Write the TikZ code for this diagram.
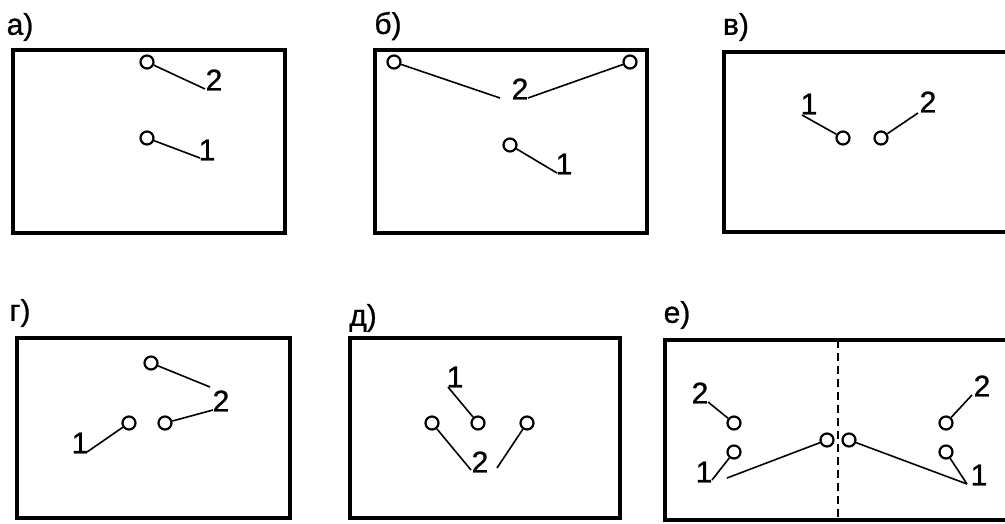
\documentclass[tikz,border=0pt]{standalone}
\usepackage{fontspec}
\setmainfont{Liberation Sans}[BoldFont={Liberation Sans},BoldFeatures={FakeBold=0.9}]
\begin{document}
\begin{tikzpicture}[x=1pt,y=-1pt,
  frame/.style={line width=4.2pt},
  hole/.style={circle,draw,line width=2.2pt,minimum size=13pt,inner sep=0pt},
  lead/.style={line width=1.6pt},
  num/.style={font=\fontsize{30}{30}\selectfont\bfseries,inner sep=0pt},
  tag/.style={font=\fontsize{30}{30}\selectfont\bfseries,inner sep=0pt}]
\useasboundingbox (0,0) rectangle (1005,523);
\clip (0,0) rectangle (1005,523);
% ---------- а)
\node[tag] (ta) at (20,27) {а)};
\draw[frame] (13,50) rectangle (285,233);
\node[hole] (a2) at (147,62) {};
\node[hole] (a1) at (147,138) {};
\coordinate (a2e) at (205,89);
\coordinate (a1e) at (200,158);
\node[num] (la2) at (214,80) {2};
\node[num] (la1) at (207,150) {1};
\draw[lead] (a2) -- (a2e);
\draw[lead] (a1) -- (a1e);
% ---------- б)
\node[tag] (tb) at (388,26) {б)};
\draw[frame] (375,50) rectangle (647,233);
\node[hole] (b2l) at (394,62) {};
\node[hole] (b2r) at (630,62) {};
\node[hole] (b1) at (510,145) {};
\coordinate (b2le) at (500,98);
\coordinate (b2re) at (528,98);
\coordinate (b1e) at (557,173);
\node[num] (lb2) at (520,89) {2};
\node[num] (lb1) at (564,164) {1};
\draw[lead] (b2l) -- (b2le);
\draw[lead] (b2r) -- (b2re);
\draw[lead] (b1) -- (b1e);
% ---------- в)
\node[tag] (tv) at (736,27) {в)};
\draw[frame] (724,52) rectangle (1030,232);
\node[hole] (v1) at (843,138) {};
\node[hole] (v2) at (881,138) {};
\coordinate (v1e) at (802,115);
\coordinate (v2e) at (918,113);
\node[num] (lv1) at (809,104) {1};
\node[num] (lv2) at (928,102) {2};
\draw[lead] (v1e) -- (v1);
\draw[lead] (v2) -- (v2e);
% ---------- г)
\node[tag] (tg) at (20,313) {г)};
\draw[frame] (17,338) rectangle (290,518);
\node[hole] (g2a) at (151,363) {};
\node[hole] (g1) at (129,423) {};
\node[hole] (g2b) at (165,423) {};
\coordinate (g2ae) at (210,387);
\coordinate (g2be) at (213,410);
\coordinate (g1e) at (87,452);
\node[num] (lg2) at (221,401) {2};
\node[num] (lg1) at (80,443) {1};
\draw[lead] (g2a) -- (g2ae);
\draw[lead] (g2b) -- (g2be);
\draw[lead] (g1) -- (g1e);
% ---------- д)
\node[tag] (td) at (363,318) {д)};
\draw[frame] (350,338) rectangle (620,518);
\node[hole] (d2l) at (432,423) {};
\node[hole] (d1) at (478,423) {};
\node[hole] (d2r) at (527,423) {};
\coordinate (d1e) at (448,387);
\coordinate (d2le) at (471,470);
\coordinate (d2re) at (497,468);
\node[num] (ld1) at (455,377) {1};
\node[num] (ld2) at (480,462) {2};
\draw[lead] (d1e) -- (d1);
\draw[lead] (d2l) -- (d2le);
\draw[lead] (d2r) -- (d2re);
% ---------- е)
\node[tag] (te) at (677,315) {е)};
\draw[frame] (665,340) rectangle (1030,520);
\coordinate (et) at (838,340);
\coordinate (eb) at (838,520);
\draw[line width=2.2pt,dash pattern=on 8pt off 5pt] (et) -- (eb);
\node[hole] (el2) at (734,423) {};
\node[hole] (el1) at (734,452) {};
\node[hole] (ecl) at (827,440) {};
\node[hole] (ecr) at (849,440) {};
\node[hole] (er2) at (946,423) {};
\node[hole] (er1) at (946,452) {};
\coordinate (el2e) at (708,402);
\coordinate (el1e) at (712,480);
\coordinate (elce) at (727,478);
\coordinate (er2e) at (972,395);
\coordinate (er1e) at (967,484);
\node[num] (lel2) at (700,393) {2};
\node[num] (lel1) at (704,472) {1};
\node[num] (ler2) at (982,386) {2};
\node[num] (ler1) at (979,475) {1};
\draw[lead] (el2e) -- (el2);
\draw[lead] (el1) -- (el1e);
\draw[lead] (elce) -- (ecl);
\draw[lead] (er2) -- (er2e);
\draw[lead] (er1) -- (er1e);
\draw[lead] (ecr) -- (er1e);
\end{tikzpicture}
\end{document}
